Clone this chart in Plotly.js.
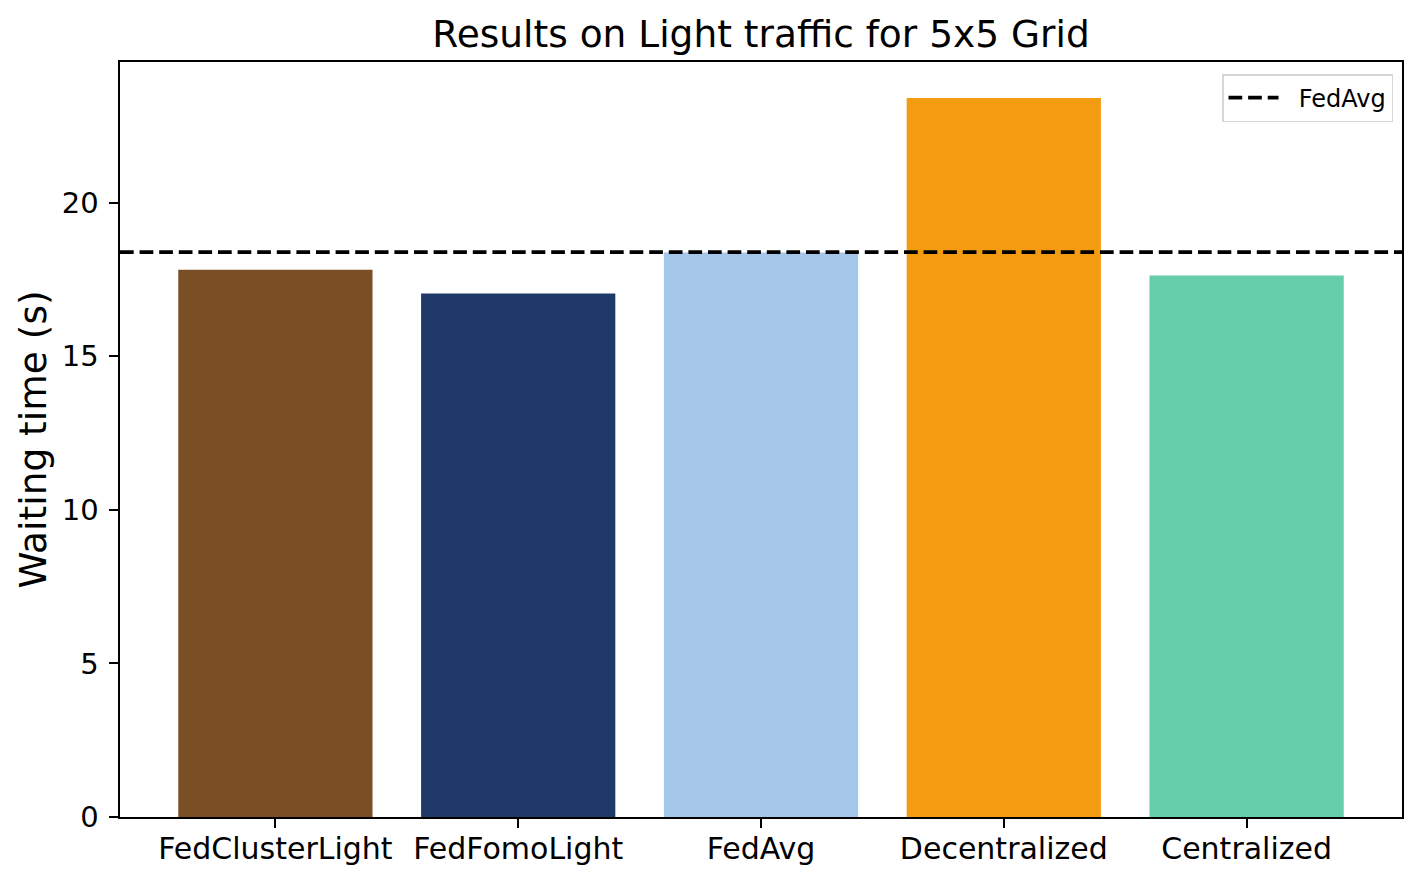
<!DOCTYPE html>
<html>
<head>
<meta charset="utf-8">
<script src="https://cdn.plot.ly/plotly-3.0.1.min.js"></script>
<style>html,body{margin:0;padding:0;background:#fff;}#chart{width:1422px;height:882px;}</style>
</head>
<body>
<div id="chart"></div>
<script>
const categories = ["FedClusterLight", "FedFomoLight", "FedAvg", "Decentralized", "Centralized"];
const waitingTime = [17.82, 17.04, 18.38, 23.41, 17.63];
const barColors = ["#7A4F25", "#1F3A68", "#A3C6E9", "#F39C12", "#66CDAA"];
const fedAvgLine = 18.39;
const yTicks = [0, 5, 10, 15, 20];

const font = "DejaVu Sans, Liberation Sans, sans-serif";

const traces = [
  {
    type: "bar",
    x: categories,
    y: waitingTime,
    marker: {color: barColors, line: {width: 0}},
    width: 0.8,
    showlegend: false,
    hoverinfo: "x+y"
  },
  {
    type: "scatter",
    mode: "lines",
    name: "\u00a0\u00a0FedAvg",
    x: [0, 1],
    y: [fedAvgLine, fedAvgLine],
    xaxis: "x2",
    yaxis: "y",
    line: {color: "#000", width: 3.7, dash: "13.7px,5.9px"}
  }
];

const layout = {
  width: 1422,
  height: 882,
  margin: {l: 120, r: 20, t: 62, b: 64.5},
  paper_bgcolor: "#fff",
  plot_bgcolor: "#fff",
  font: {family: font, color: "#000", size: 30},
  title: {
    text: "Results on Light traffic for 5x5 Grid",
    font: {family: font, size: 37.5, color: "#000"},
    x: 0.5, xanchor: "center", xref: "paper",
    y: 0.962, yanchor: "middle", yref: "container"
  },
  bargap: 0.2,
  xaxis: {
    type: "category",
    range: [-0.64, 4.64],
    showgrid: false,
    zeroline: false,
    showline: true, linecolor: "#000", linewidth: 2, mirror: true,
    ticks: "outside", ticklen: 8.6, tickwidth: 2, tickcolor: "#000",
    ticklabelstandoff: -5,
    tickfont: {family: font, size: 30, color: "#000"},
    fixedrange: true
  },
  xaxis2: {
    overlaying: "x",
    range: [0, 1],
    visible: false,
    fixedrange: true
  },
  yaxis: {
    range: [0, 24.58],
    tickvals: yTicks,
    ticktext: yTicks.map(String),
    showgrid: false,
    zeroline: false,
    showline: true, linecolor: "#000", linewidth: 2, mirror: true,
    ticks: "outside", ticklen: 8.6, tickwidth: 2, tickcolor: "#000",
    ticklabelstandoff: 5,
    tickfont: {family: font, size: 29, color: "#000"},
    title: {text: "Waiting time (s)", font: {family: font, size: 37.5, color: "#000"}, standoff: 4},
    fixedrange: true
  },
  legend: {
    x: 0.993, xanchor: "right", xref: "paper",
    y: 0.984, yanchor: "top", yref: "paper",
    bgcolor: "rgba(255,255,255,0.8)",
    bordercolor: "#d6d6d6", borderwidth: 1.5,
    itemwidth: 50,
    font: {family: font, size: 24, color: "#000"}
  },
  showlegend: true
};

Plotly.newPlot("chart", traces, layout, {displayModeBar: false, staticPlot: true});
</script>
</body>
</html>
